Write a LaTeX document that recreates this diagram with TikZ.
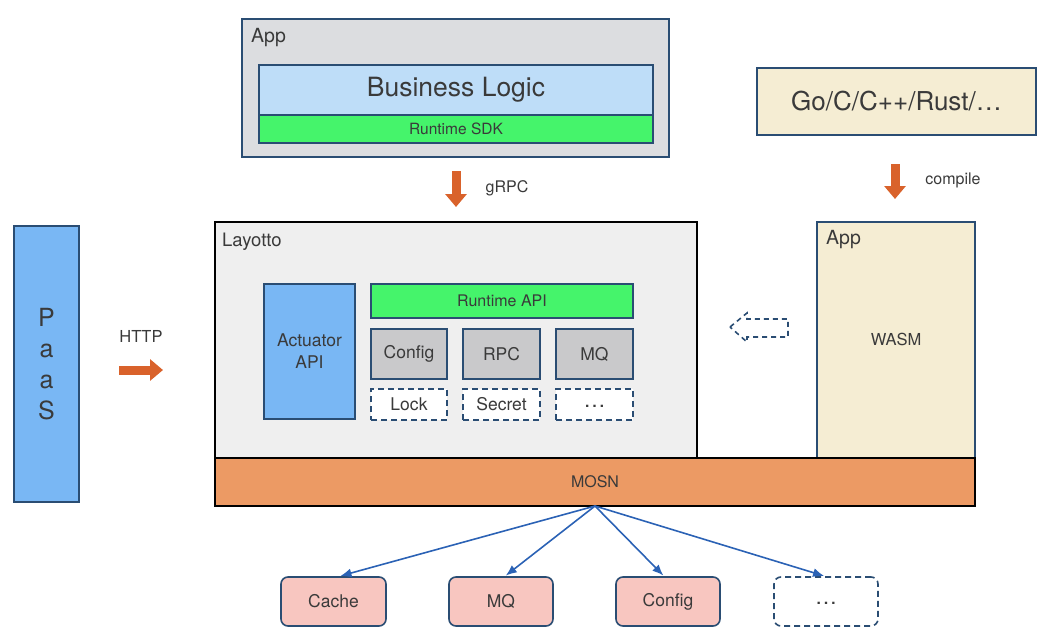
\documentclass[tikz,border=0pt]{standalone}
\usepackage{fontspec}
\setmainfont{TeX Gyre Heros}
\usetikzlibrary{arrows.meta,calc}
\definecolor{bord}{HTML}{2A4D73}
\definecolor{txt}{HTML}{3A3A3A}
\definecolor{appgray}{HTML}{DCDDE0}
\definecolor{bizblue}{HTML}{BEDDF8}
\definecolor{sdkgreen}{HTML}{45F46B}
\definecolor{cream}{HTML}{F5EDD3}
\definecolor{laygray}{HTML}{EFEFEF}
\definecolor{actblue}{HTML}{79B7F4}
\definecolor{compgray}{HTML}{C9C9CB}
\definecolor{mosnorange}{HTML}{EC9A64}
\definecolor{pink}{HTML}{F8C6C0}
\definecolor{arrorange}{HTML}{D9622B}
\definecolor{arrblue}{HTML}{2B62B5}
\tikzset{
  box/.style={draw=bord, line width=1.6pt, text=txt, inner sep=0pt, font=\fontsize{17.5}{20}\selectfont},
  dbox/.style={box, dashed, dash pattern=on 6pt off 4pt, fill=white},
  rbox/.style={box, rounded corners=7pt, minimum width=104, minimum height=49},
  lbl/.style={text=txt, inner sep=0pt, font=\fontsize{16}{19}\selectfont},
  bigarrow/.style={arrorange, line width=9pt, -{Triangle[length=13pt,width=21pt]}},
  fanarrow/.style={arrblue, line width=1.6pt, -{Latex[length=11pt,width=9pt]}, shorten >=1pt}
}
\begin{document}
\begin{tikzpicture}[x=1pt,y=-1pt]
\useasboundingbox (0,0) rectangle (1046,642);

% top App
\node[box, fill=appgray, minimum width=427, minimum height=138] (appTop) at (455.5,88) {};
\node[lbl, anchor=west, font=\fontsize{19.5}{22}\selectfont] (appTopLbl) at (251,38) {App};
\node[box, fill=bizblue, minimum width=394, minimum height=50, font=\fontsize{26.5}{30}\selectfont] (biz) at (456,90) {Business Logic};
\node[box, fill=sdkgreen, minimum width=394, minimum height=28, font=\fontsize{15.5}{18}\selectfont] (sdk) at (456,129) {Runtime SDK};

% Go box
\node[box, fill=cream, minimum width=279, minimum height=67, font=\fontsize{26}{30}\selectfont] (go) at (896.5,101.5) {Go/C/C++/Rust/\ldots};

% WASM App
\node[box, fill=cream, minimum width=158, minimum height=236] (wasmApp) at (896,340) {};
\node[lbl, anchor=west, font=\fontsize{19.5}{22}\selectfont] (wasmAppLbl) at (826,240) {App};
\node[lbl, font=\fontsize{16.5}{19}\selectfont] (wasm) at (896,339) {WASM};

% Layotto
\node[box, draw=black, fill=laygray, minimum width=482, minimum height=236] (layotto) at (456,340) {};
\node[lbl, anchor=west, font=\fontsize{18.5}{21}\selectfont] (layLbl) at (222,242) {Layotto};
\node[box, fill=actblue, minimum width=91, minimum height=135, align=center, font=\fontsize{17.5}{22}\selectfont] (actuator) at (309.5,351.5) {Actuator\\API};
\node[box, fill=sdkgreen, minimum width=262, minimum height=34, font=\fontsize{16}{19}\selectfont] (rtapi) at (502,301) {Runtime API};
\node[box, fill=compgray, minimum width=76, minimum height=50] (config) at (409,354) {Config};
\node[box, fill=compgray, minimum width=77, minimum height=50] (rpc) at (501.5,354) {RPC};
\node[box, fill=compgray, minimum width=77, minimum height=50] (mq) at (594.5,354) {MQ};
\node[dbox, minimum width=76, minimum height=31] (lock) at (409,404.5) {Lock};
\node[dbox, minimum width=77, minimum height=31] (secret) at (501.5,404.5) {Secret};
\node[dbox, minimum width=77, minimum height=31, font=\fontsize{22}{24}\selectfont] (more1) at (594.5,404.5) {\raisebox{-5pt}{\ldots}};

% MOSN
\node[box, draw=black, fill=mosnorange, minimum width=760, minimum height=48, font=\fontsize{16}{19}\selectfont] (mosn) at (595,482) {MOSN};

% PaaS
\node[box, fill=actblue, minimum width=65, minimum height=276, align=center, font=\fontsize{25}{31}\selectfont] (paas) at (46.5,364) {P\\a\\a\\S};

% dashed block arrow (WASM -> Layotto)
\draw[bord, line width=1.6pt, dash pattern=on 5pt off 4pt]
  (730,327) -- (747,313) -- (747,319) -- (788,319) -- (788,337) -- (747,337) -- (747,342) -- cycle;

% orange arrows
\coordinate (gA) at (456,171);
\coordinate (gB) at (456,207);
\draw[bigarrow] (gA) -- (gB);
\node[lbl] (grpc) at (507,188) {gRPC};

\coordinate (cA) at (895,164);
\coordinate (cB) at (895,199);
\draw[bigarrow] (cA) -- (cB);
\node[lbl] (compile) at (953,180) {compile};

\coordinate (hA) at (119,370);
\coordinate (hB) at (163,370);
\draw[bigarrow] (hA) -- (hB);
\node[lbl, font=\fontsize{16.5}{19}\selectfont] (http) at (141,336) {HTTP};

% bottom components
\node[rbox, fill=pink, minimum width=105] (cache) at (333.5,601.5) {Cache};
\node[rbox, fill=pink] (mq2) at (501,601.5) {MQ};
\node[rbox, fill=pink] (config2) at (668,601.5) {Config};
\node[rbox, dashed, dash pattern=on 6pt off 4pt, fill=white, font=\fontsize{22}{24}\selectfont] (more2) at (826,601.5) {\raisebox{-5pt}{\ldots}};

\coordinate (fan) at (595,506);
\draw[fanarrow] (fan) -- ($(cache.north)+(6,0)$);
\draw[fanarrow] (fan) -- ($(mq2.north)+(4,0)$);
\draw[fanarrow] (fan) -- ($(config2.north)+(-4,0)$);
\draw[fanarrow] (fan) -- ($(more2.north)+(-1,0)$);
\end{tikzpicture}
\end{document}
